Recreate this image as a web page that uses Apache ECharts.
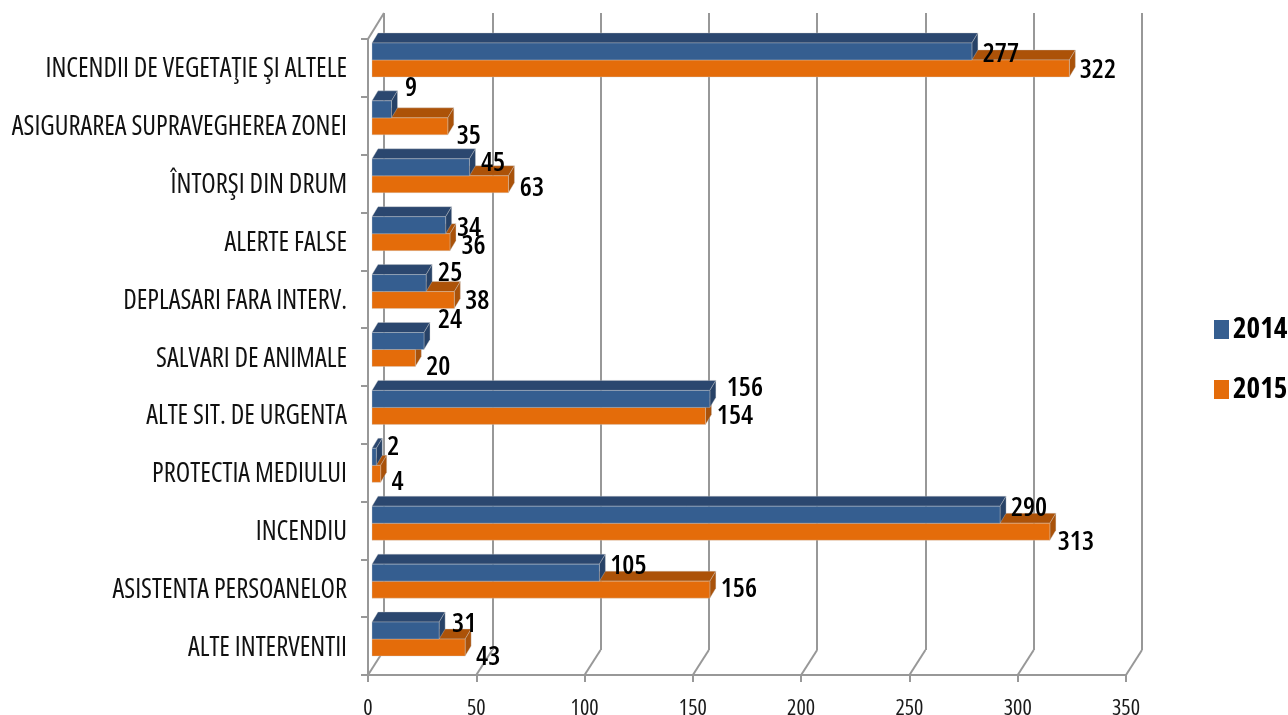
<!DOCTYPE html>
<html><head><meta charset="utf-8">
<style>html,body{margin:0;padding:0;background:#fff}#c{width:1288px;height:715px}</style>
<script src="https://cdn.jsdelivr.net/npm/echarts@6/dist/echarts.min.js"></script>
</head><body><div id="c"></div>
<script>
const categories = ['INCENDII DE VEGETAŢIE ŞI ALTELE','ASIGURAREA SUPRAVEGHEREA ZONEI','ÎNTORŞI DIN DRUM','ALERTE FALSE','DEPLASARI FARA INTERV.','SALVARI DE ANIMALE','ALTE SIT. DE URGENTA','PROTECTIA MEDIULUI','INCENDIU','ASISTENTA PERSOANELOR','ALTE INTERVENTII'];
const values2014 = [277,9,45,34,25,24,156,2,290,105,31];
const values2015 = [322,35,63,36,38,20,154,4,313,156,43];
const xTicks = [0,50,100,150,200,250,300,350];
const nudgeX2014 = [29,19.5,23.5,23.4,24,26,35,17,29,29,25];
const nudgeY2014 = [1.5,-22.2,-5.4,1.8,-10.8,-22,-12.2,-11.4,-7.6,-7.8,-7.5];
const nudgeX2015 = [28.5,21,23.5,23.5,23,23,29.4,17,26,29,23];
const nudgeY2015 = [0.5,8.8,2.6,2.8,-0.1,8,-0.9,7.2,9.4,-1.8,8.5];

const FONT = '"Open Sans",Carlito,sans-serif';
const GRAY = '#989898', BARH = 17, DX = 6, DY = -10, WX = 16, WY = -25;
const EDGE = 'rgba(205,205,205,0.35)';

function barSeries(name, values, dir, front, top, side, z){
  return {
    name, type:'custom', xAxisIndex:2, yAxisIndex:2, z,
    itemStyle:{color:front},
    data: values.map((v,i)=>[v,i]),
    renderItem(params, api){
      const a = api.coord([0, api.value(1)]), b = api.coord([api.value(0), api.value(1)]);
      const x0=a[0], x1=b[0], y0 = dir<0 ? a[1]-BARH : a[1], y1=y0+BARH;
      return {type:'group', children:[
        {type:'polygon', shape:{points:[[x0,y0],[x0+DX,y0+DY],[x1+DX,y0+DY],[x1,y0]]}, style:{fill:top,stroke:EDGE,lineWidth:1}},
        {type:'polygon', shape:{points:[[x1,y0],[x1+DX,y0+DY],[x1+DX,y1+DY],[x1,y1]]}, style:{fill:side,stroke:EDGE,lineWidth:1}},
        {type:'rect', shape:{x:x0,y:y0,width:x1-x0,height:BARH}, style:{fill:front,stroke:EDGE,lineWidth:1}}
      ]};
    }
  };
}
function labelSeries(values, dir, nx, ny){
  return {
    type:'custom', xAxisIndex:2, yAxisIndex:2, z:20, silent:true,
    data: values.map((v,i)=>[v,i]),
    renderItem(params, api){
      const i=params.dataIndex, b=api.coord([api.value(0), api.value(1)]);
      return {type:'text', style:{text:String(api.value(0)), x:b[0]+nx[i], y:b[1]+dir*8.5+ny[i]+1.5,
        fill:'#000', align:'center', verticalAlign:'middle', font:'condensed 600 27px '+FONT}};
    }
  };
}
const floorDiagonals = {
  type:'custom', xAxisIndex:0, yAxisIndex:0, z:1, silent:true,
  data: xTicks.map(t=>[t,10]),
  renderItem(params, api){
    const p=api.coord([api.value(0),10]), y=p[1]+api.size([0,1])[1]/2;
    return {type:'line', shape:{x1:p[0],y1:y,x2:p[0]+WX,y2:y+WY}, style:{stroke:GRAY,lineWidth:2}};
  }
};
const topDiagonal = {
  type:'custom', xAxisIndex:0, yAxisIndex:0, z:1, silent:true,
  data: [[0,0]],
  renderItem(params, api){
    const p=api.coord([0,0]), y=p[1]-api.size([0,1])[1]/2;
    return {type:'line', shape:{x1:p[0],y1:y,x2:p[0]+WX,y2:y+WY-1}, style:{stroke:GRAY,lineWidth:2}};
  }
};
const chart = echarts.init(document.getElementById('c'),null,{renderer:'canvas'});
chart.setOption({
  animation:false, backgroundColor:'#fff',
  grid:[
    {left:368, top:39, width:758, height:636, outerBoundsMode:'none'},
    {left:384, top:13, width:758, height:637, outerBoundsMode:'none'},
    {left:372, top:31, width:758, height:637, outerBoundsMode:'none'}
  ],
  xAxis:[
    {gridIndex:0,type:'value',min:0,max:350,interval:50,
     axisLine:{show:true,lineStyle:{color:GRAY,width:2}},
     axisTick:{show:true,length:7,lineStyle:{color:GRAY,width:2}},
     axisLabel:{margin:23,color:'#1a1a1a',fontFamily:FONT,fontStyle:'condensed',fontSize:22,hideOverlap:false,showMinLabel:true,showMaxLabel:true},
     splitLine:{show:false}},
    {gridIndex:1,type:'value',min:0,max:350,interval:50,
     axisLine:{show:false},axisTick:{show:false},axisLabel:{show:false},
     splitLine:{show:true,lineStyle:{color:GRAY,width:2}}},
    {gridIndex:2,type:'value',min:0,max:350,interval:50,
     axisLine:{show:false},axisTick:{show:false},axisLabel:{show:false},splitLine:{show:false}}
  ],
  yAxis:[
    {gridIndex:0,type:'category',inverse:true,data:categories,
     axisLine:{show:true,lineStyle:{color:GRAY,width:2}},
     axisTick:{show:true,length:7,alignWithLabel:false,lineStyle:{color:GRAY,width:2}},
     axisLabel:{show:false},splitLine:{show:false}},
    {gridIndex:1,type:'category',inverse:true,data:categories,show:false},
    {gridIndex:2,type:'category',inverse:true,data:categories,
     axisLine:{show:false},axisTick:{show:false},splitLine:{show:false},
     axisLabel:{show:true,interval:0,margin:25,color:'#111',fontFamily:FONT,fontStyle:'condensed',fontSize:26.5,verticalAlign:'top',lineHeight:19}}
  ],
  legend:{
    orient:'vertical', left:1209, top:310, itemWidth:15, itemHeight:19, itemGap:31, icon:'rect',
    data:['2014','2015'], selectedMode:false,
    textStyle:{color:'#000',fontFamily:FONT,fontStyle:'condensed',fontWeight:700,fontSize:29,padding:[0,0,0,-1]}
  },
  series:[
    topDiagonal, floorDiagonals,
    barSeries('2015',values2015,1,'#E46C0A','#AC5208','#A9520A',5),
    barSeries('2014',values2014,-1,'#355E90','#2B476F','#274267',6),
    labelSeries(values2014,-1,nudgeX2014,nudgeY2014),
    labelSeries(values2015,1,nudgeX2015,nudgeY2015)
  ]
});
</script></body></html>
